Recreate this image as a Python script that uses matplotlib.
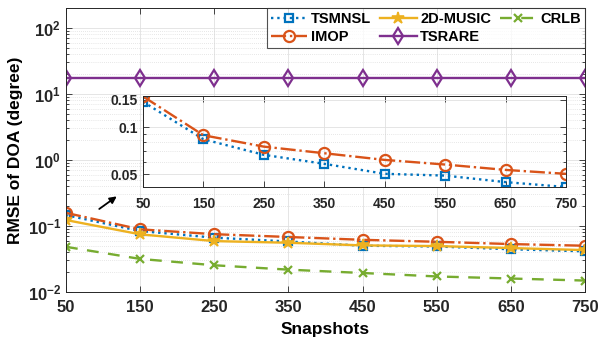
import numpy as np
import matplotlib
matplotlib.use("Agg")
import matplotlib.pyplot as plt
from matplotlib.ticker import FixedLocator, NullFormatter, LogLocator

plt.rcParams['font.family'] = ['Liberation Sans', 'DejaVu Sans']
plt.rcParams['font.weight'] = 'bold'
plt.rcParams['mathtext.fontset'] = 'custom'
plt.rcParams['mathtext.rm'] = 'Liberation Sans:bold'
plt.rcParams['mathtext.bf'] = 'Liberation Sans:bold'
plt.rcParams['mathtext.default'] = 'bf'

# data
snapshots = [50, 150, 250, 350, 450, 550, 650, 750]
tsmnsl = [0.146, 0.0838, 0.0665, 0.0582, 0.0502, 0.0489, 0.0444, 0.0413]
imop = [0.158, 0.0889, 0.0751, 0.0681, 0.0617, 0.0576, 0.0532, 0.0502]
music2d = [0.123, 0.0747, 0.059, 0.0557, 0.0508, 0.0496, 0.0463, 0.0431]
tsrare = [17.7, 17.7, 17.7, 17.7, 17.7, 17.7, 17.7, 17.7]
crlb = [0.0483, 0.0317, 0.0254, 0.0218, 0.0194, 0.0172, 0.0160, 0.0149]

c_blue = '#0072BD'
c_orange = '#D95319'
c_yellow = '#EDB120'
c_purple = '#7E2F8E'
c_green = '#77AC30'

W, H = 599, 341
fig = plt.figure(figsize=(W / 100, H / 100), dpi=100)


def px_axes(l, t, r, b):
    return fig.add_axes([l / W, 1 - b / H, (r - l) / W, (b - t) / H])


def style(ax, fs):
    ax.tick_params(which='both', direction='in', top=True, right=True,
                   labelsize=fs, colors='#262626', width=0.6)
    ax.tick_params(which='major', length=4)
    ax.tick_params(which='minor', length=2)
    for s in ax.spines.values():
        s.set_color('#262626')
        s.set_linewidth(0.7)
    ax.grid(True, which='major', color='#e0e0e0', linewidth=0.6, linestyle='-')
    ax.grid(True, which='minor', color='#d0d0d0', linewidth=0.5, linestyle=(0, (1, 2)))
    ax.set_axisbelow(True)


ax = px_axes(66, 8, 585, 292)
lw = 1.7
ax.plot(snapshots, tsmnsl, linestyle=':', color=c_blue, marker='s', ms=6,
        mfc='none', mew=1.6, lw=lw, label='TSMNSL')
ax.plot(snapshots, imop, linestyle='-.', color=c_orange, marker='o', ms=8,
        mfc='none', mew=1.6, lw=lw, label='IMOP')
ax.plot(snapshots, music2d, linestyle='-', color=c_yellow, marker='*', ms=9,
        mew=1.2, lw=lw, label='2D-MUSIC')
ax.plot(snapshots, tsrare, linestyle='-', color=c_purple, marker='d', ms=8,
        mfc='none', mew=1.6, lw=lw, label='TSRARE')
ax.plot(snapshots, crlb, linestyle='--', color=c_green, marker='x', ms=6,
        mew=1.6, lw=lw, dashes=(5, 4), label='CRLB')

ax.set_yscale('log')
ax.set_xlim(50, 750)
ax.set_ylim(1e-2, 200)
ax.set_xticks(snapshots)
ax.set_yticks([1e-2, 1e-1, 1e0, 1e1, 1e2])
ax.set_yticklabels([r'$10^{-2}$', r'$10^{-1}$', r'$10^{0}$', r'$10^{1}$', r'$10^{2}$'])
ax.yaxis.set_minor_locator(LogLocator(base=10, subs=np.arange(2, 10), numticks=20))
ax.yaxis.set_minor_formatter(NullFormatter())
style(ax, 12)
ax.tick_params(axis='x', pad=6)
ax.set_xlabel('Snapshots', fontsize=12.5, fontweight='bold', labelpad=5)
ax.set_ylabel('RMSE of DOA (degree)', fontsize=12.5, fontweight='bold', labelpad=3)

leg = ax.legend(ncol=3, loc='upper right', bbox_to_anchor=(1.0, 1.0),
                fontsize=10.5, frameon=True, fancybox=False, edgecolor='#262626',
                handlelength=2.5, columnspacing=0.6, handletextpad=0.25,
                borderpad=0.3, labelspacing=0.25, borderaxespad=0.0)
leg.get_frame().set_linewidth(0.8)
for t in leg.get_texts():
    t.set_fontweight('bold')

ax.annotate('', xy=(121.5, 0.297), xytext=(91.8, 0.171),
            arrowprops=dict(arrowstyle='-|>', color='black', lw=1.3,
                            mutation_scale=10))

# inset
axi = px_axes(143, 96, 566, 187)
axi.plot(snapshots, tsmnsl, linestyle=':', color=c_blue, marker='s', ms=6,
         mfc='none', mew=1.6, lw=lw)
axi.plot(snapshots, imop, linestyle='-.', color=c_orange, marker='o', ms=8,
         mfc='none', mew=1.6, lw=lw)
axi.set_yscale('log')
axi.set_xlim(50, 750)
axi.set_ylim(0.0413, 0.159)
axi.set_xticks(snapshots)
axi.yaxis.set_major_locator(FixedLocator([0.05, 0.1, 0.15]))
axi.set_yticklabels(['0.05', '0.1', '0.15'])
axi.yaxis.set_minor_locator(FixedLocator([0.06, 0.07, 0.08, 0.09]))
axi.yaxis.set_minor_formatter(NullFormatter())
axi.set_facecolor('white')
style(axi, 10)
axi.tick_params(axis='x', pad=7)

fig.savefig('out.png', dpi=100)
